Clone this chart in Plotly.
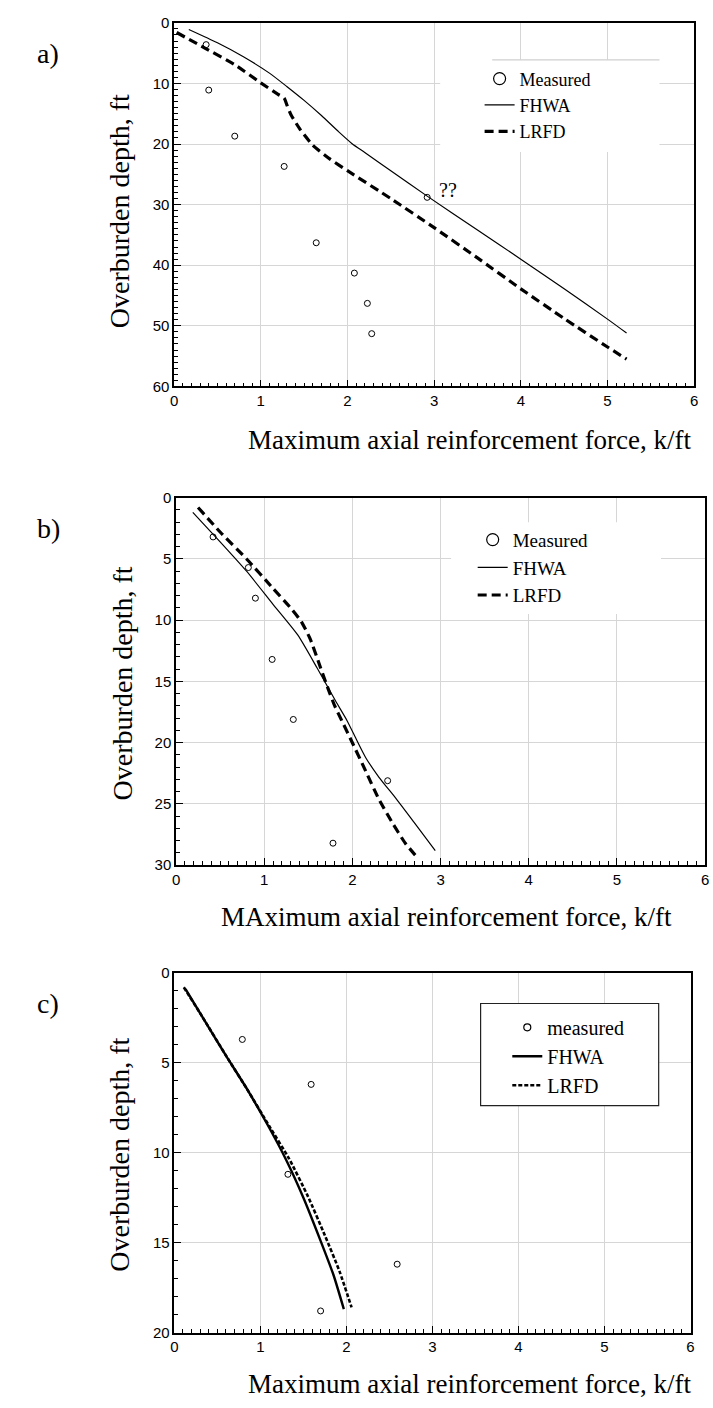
import plotly.graph_objects as go

# ---------------- data ----------------
# a) tall wall
a_meas_x = [0.37, 0.40, 0.70, 1.27, 1.64, 2.08, 2.23, 2.28, 2.92]
a_meas_y = [3.6, 11.1, 18.7, 23.7, 36.3, 41.3, 46.3, 51.3, 28.8]
a_fhwa_x = [0.17, 0.5, 0.8, 1.1, 1.3, 1.5, 1.7, 1.9, 2.05, 2.2, 2.5, 2.92, 3.5, 4.0, 4.5, 5.0, 5.22]
a_fhwa_y = [1.1, 3.3, 5.6, 8.3, 10.5, 12.8, 15.3, 18.0, 19.9, 21.4, 24.4, 28.6, 34.2, 39.0, 43.9, 48.9, 51.2]
a_lrfd_x = [0.03, 0.36, 0.7, 1.0, 1.2, 1.27, 1.30, 1.35, 1.45, 1.6, 1.8, 2.0, 2.5, 3.0, 3.5, 4.0, 4.5, 5.0, 5.22]
a_lrfd_y = [1.6, 4.2, 6.9, 9.9, 11.8, 12.4, 13.5, 15.2, 17.5, 20.2, 22.5, 24.4, 29.0, 33.8, 38.8, 43.9, 48.8, 53.5, 55.5]

# b) medium wall
b_meas_x = [0.42, 0.82, 0.90, 1.09, 1.33, 2.40, 1.78]
b_meas_y = [3.2, 5.7, 8.2, 13.2, 18.1, 23.1, 28.2]
b_fhwa_x = [0.19, 0.5, 0.8, 1.1, 1.38, 1.6, 1.81, 1.94, 2.05, 2.15, 2.3, 2.5, 2.7, 2.94]
b_fhwa_y = [1.2, 3.6, 6.0, 8.7, 11.2, 13.9, 16.6, 18.2, 19.8, 21.2, 22.8, 24.6, 26.5, 28.8]
b_lrfd_x = [0.25, 0.5, 0.8, 1.1, 1.3, 1.42, 1.52, 1.64, 1.72, 1.8, 1.88, 2.0, 2.15, 2.3, 2.45, 2.6, 2.74]
b_lrfd_y = [0.8, 2.8, 5.0, 7.4, 9.0, 10.1, 11.5, 13.9, 15.5, 17.0, 18.2, 20.0, 22.3, 24.6, 26.5, 28.2, 29.4]

# c) short wall
c_meas_x = [0.79, 1.59, 1.32, 2.59, 1.70]
c_meas_y = [3.7, 6.2, 11.2, 16.2, 18.8]
c_fhwa_x = [0.13, 0.32, 0.6, 0.85, 1.09, 1.3, 1.5, 1.7, 1.85, 1.97]
c_fhwa_y = [0.9, 2.4, 4.6, 6.5, 8.5, 10.4, 12.5, 14.9, 16.8, 18.7]
c_lrfd_x = [0.11, 0.32, 0.6, 0.85, 1.1, 1.33, 1.55, 1.75, 1.92, 2.06]
c_lrfd_y = [0.8, 2.4, 4.6, 6.5, 8.5, 10.3, 12.4, 14.6, 16.6, 18.6]

x_ticks = [0, 1, 2, 3, 4, 5, 6]

W, H = 713, 1408
SERIF = "Liberation Serif, Times New Roman, serif"
SANS = "Liberation Sans, Arial, sans-serif"


def px_x(X):
    return X / W


def px_y(Y):
    return 1 - Y / H


fig = go.Figure()


def add_panel(idx, mx, my, fx, fy, lx, ly, legend_name, meas_name,
              meas_leg_size, fhwa_w, lrfd_w, lrfd_dash):
    xa = "x" if idx == 1 else f"x{idx}"
    ya = "y" if idx == 1 else f"y{idx}"
    fig.add_trace(go.Scatter(
        x=mx, y=my, mode="markers", xaxis=xa, yaxis=ya, showlegend=False,
        marker=dict(symbol="circle-open", size=6, color="black",
                    line=dict(width=1, color="black")),
        cliponaxis=False))
    fig.add_trace(go.Scatter(
        x=[None], y=[None], mode="markers", xaxis=xa, yaxis=ya,
        name=meas_name, legend=legend_name, legendgroup="m",
        marker=dict(symbol="circle-open", size=meas_leg_size, color="black",
                    line=dict(width=1.2, color="black"))))
    fig.add_trace(go.Scatter(
        x=fx, y=fy, mode="lines", xaxis=xa, yaxis=ya, name="FHWA",
        legend=legend_name, legendgroup="f",
        line=dict(color="black", width=fhwa_w, shape="spline", smoothing=0.6)))
    fig.add_trace(go.Scatter(
        x=lx, y=ly, mode="lines", xaxis=xa, yaxis=ya, name="LRFD",
        legend=legend_name, legendgroup="l",
        line=dict(color="black", width=lrfd_w, dash=lrfd_dash,
                  shape="spline", smoothing=0.5)))


add_panel(1, a_meas_x, a_meas_y, a_fhwa_x, a_fhwa_y, a_lrfd_x, a_lrfd_y,
          "legend", "Measured", 12, 1.2, 3.2, "9px,5px")
add_panel(2, b_meas_x, b_meas_y, b_fhwa_x, b_fhwa_y, b_lrfd_x, b_lrfd_y,
          "legend2", "Measured", 12, 1.2, 3.2, "9px,5px")
add_panel(3, c_meas_x, c_meas_y, c_fhwa_x, c_fhwa_y, c_lrfd_x, c_lrfd_y,
          "legend3", "measured", 7, 2.4, 2.6, "4px,2px")


def xaxis_style(domain, anchor):
    return dict(
        domain=domain, anchor=anchor, range=[0, 6], tickvals=x_ticks,
        showline=True, linecolor="black", linewidth=1.5, mirror=True,
        ticks="inside", ticklen=7, tickwidth=1, tickcolor="black",
        showgrid=True, gridcolor="#d6d6d6", gridwidth=1.3, zeroline=False,
        tickfont=dict(family=SANS, size=15, color="black"),
        minor=dict(dtick=0.1, ticks="inside", ticklen=4, tickcolor="black",
                   showgrid=False),
    )


def yaxis_style(domain, anchor, ymax, dtick):
    return dict(
        domain=domain, anchor=anchor, range=[ymax, 0],
        tickvals=list(range(0, ymax + 1, dtick)),
        showline=True, linecolor="black", linewidth=1.5, mirror=True,
        ticks="inside", ticklen=7, tickwidth=1, tickcolor="black",
        showgrid=True, gridcolor="#d6d6d6", gridwidth=1.3, zeroline=False,
        tickfont=dict(family=SANS, size=15, color="black"),
        minor=dict(dtick=1, ticks="inside", ticklen=4, tickcolor="black",
                   showgrid=False),
    )


fig.update_layout(
    width=W, height=H, margin=dict(l=0, r=0, t=0, b=0),
    paper_bgcolor="white", plot_bgcolor="white",
    xaxis=xaxis_style([px_x(172), px_x(698)], "y"),
    yaxis=yaxis_style([px_y(382), px_y(14)], "x", 60, 10),
    xaxis2=xaxis_style([px_x(174), px_x(709)], "y2"),
    yaxis2=yaxis_style([px_y(866.7), px_y(494.7)], "x2", 30, 5),
    xaxis3=xaxis_style([px_x(172.3), px_x(694.3)], "y3"),
    yaxis3=yaxis_style([px_y(1339.7), px_y(975.7)], "x3", 20, 5),
)

leg_common = dict(
    bgcolor="rgba(0,0,0,0)", borderwidth=0, xanchor="left", yanchor="top",
    traceorder="normal", tracegroupgap=0, itemwidth=30,
)
fig.update_layout(
    legend=dict(leg_common, x=px_x(481), y=px_y(52),
                font=dict(family=SERIF, size=18, color="black")),
    legend2=dict(leg_common, x=px_x(474), y=px_y(518),
                 font=dict(family=SERIF, size=19, color="black")),
    legend3=dict(leg_common, x=px_x(509), y=px_y(1011), tracegroupgap=7,
                 font=dict(family=SERIF, size=20, color="black")),
)

# white patches behind the legends (hide gridlines), boxed legend in c)
fig.add_shape(type="rect", xref="x", yref="y", x0=3.07, x1=5.6, y0=6.1, y1=21.3,
              fillcolor="white", line=dict(width=0), layer="between")
fig.add_shape(type="line", xref="x", yref="y", x0=3.67, x1=5.6, y0=6.1, y1=6.1,
              line=dict(color="#cfcfcf", width=1.2), layer="between")
fig.add_shape(type="rect", xref="x2", yref="y2", x0=3.12, x1=5.5, y0=2.0, y1=9.5,
              fillcolor="white", line=dict(width=0), layer="between")
fig.add_shape(type="rect", xref="x3", yref="y3", x0=3.56, x1=5.63, y0=1.7, y1=7.38,
              fillcolor="white", line=dict(color="#222222", width=1.2), layer="between")

annotations = [
    # panel labels
    dict(text="a)", x=px_x(44), y=px_y(45)),
    dict(text="b)", x=px_x(45), y=px_y(526)),
    dict(text="c)", x=px_x(44), y=px_y(1007)),
]
for ann in annotations:
    ann.update(xref="paper", yref="paper", showarrow=False,
               xanchor="center", yanchor="middle",
               font=dict(family=SERIF, size=28, color="black"))

titles = [
    dict(text="Maximum axial reinforcement force, k/ft", x=px_x(471), y=px_y(436)),
    dict(text="MAximum axial reinforcement force, k/ft", x=px_x(448), y=px_y(919)),
    dict(text="Maximum axial reinforcement force, k/ft", x=px_x(471), y=px_y(1392)),
]
for t in titles:
    t.update(xref="paper", yref="paper", showarrow=False,
             xanchor="center", yanchor="middle",
             font=dict(family=SERIF, size=27, color="black"))

ytitles = [
    dict(text="Overburden depth, ft", x=px_x(117), y=px_y(205)),
    dict(text="Overburden depth, ft", x=px_x(120), y=px_y(683)),
    dict(text="Overburden depth, ft", x=px_x(117), y=px_y(1160)),
]
for t in ytitles:
    t.update(xref="paper", yref="paper", showarrow=False, textangle=-90,
             xanchor="center", yanchor="middle",
             font=dict(family=SERIF, size=28, color="black"))

qq = dict(text="??", xref="x", yref="y", x=3.03, y=27.6, showarrow=False,
          xanchor="left", yanchor="middle",
          font=dict(family=SERIF, size=20, color="black"))

fig.update_layout(annotations=annotations + titles + ytitles + [qq])

fig.write_html("out.html")
